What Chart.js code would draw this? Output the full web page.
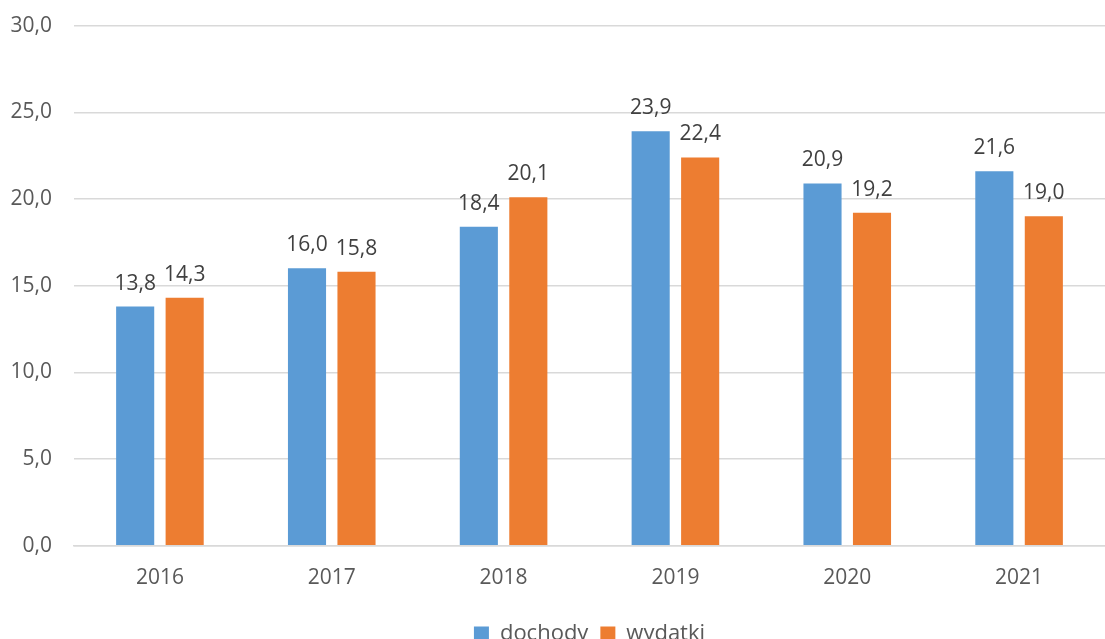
<!DOCTYPE html>
<html>
<head>
<meta charset="utf-8">
<script src="https://cdn.jsdelivr.net/npm/chart.js@4"></script>
<style>
  html,body{margin:0;padding:0;background:#fff;overflow:hidden;}
  #wrap{position:relative;top:-9px;width:1105px;height:664px;}
</style>
</head>
<body>
<div id="wrap"><canvas id="chart"></canvas></div>
<script>
/* values */
const years = ['2016','2017','2018','2019','2020','2021'];
const dochody = [13.8, 16.0, 18.4, 23.9, 20.9, 21.6];
const wydatki = [14.3, 15.8, 20.1, 22.4, 19.2, 19.0];

const FONT = "'Open Sans','Noto Sans',sans-serif";
const TEXT = '#595959';
const fmt = v => v.toFixed(1).replace('.', ',');

Chart.defaults.font.family = FONT;
Chart.defaults.color = TEXT;

/* value labels above each bar */
const barLabels = {
  id: 'barLabels',
  afterDatasetsDraw(chart){
    const ctx = chart.ctx;
    ctx.save();
    ctx.font = '21px ' + FONT;
    ctx.fillStyle = '#404040';
    ctx.textAlign = 'center';
    ctx.textBaseline = 'alphabetic';
    chart.data.datasets.forEach((ds, i) => {
      chart.getDatasetMeta(i).data.forEach((bar, j) => {
        ctx.fillText(fmt(ds.data[j]), bar.x, bar.y - 17);
      });
    });
    ctx.restore();
  }
};

new Chart(document.getElementById('chart'), {
  type: 'bar',
  data: {
    labels: years,
    datasets: [
      { label: 'dochody', data: dochody, backgroundColor: '#5b9bd5' },
      { label: 'wydatki', data: wydatki, backgroundColor: '#ed7d31' },
    ],
  },
  options: {
    responsive: true,
    maintainAspectRatio: false,
    animation: false,
    categoryPercentage: 0.576,
    barPercentage: 0.77,
    layout: { padding: { top: 4, right: 0, left: 0, bottom: 0 } },
    plugins: {
      legend: {
        position: 'bottom',
        fullSize: false, // centre the legend under the plot area
        labels: { boxWidth: 15, boxHeight: 15, padding: 12, color: TEXT, font: { size: 22 } },
      },
      tooltip: { enabled: false },
    },
    scales: {
      x: {
        grid: { display: false, drawTicks: false },
        border: { color: '#d9d9d9', width: 1.5 },
        ticks: { padding: 20, color: TEXT, font: { size: 21 } },
      },
      y: {
        min: 0, max: 30,
        afterFit(scale){ scale.width = 74; },
        grid: { color: '#d9d9d9', lineWidth: 1.5, drawTicks: false },
        border: { display: false },
        ticks: { stepSize: 5, padding: 22, color: TEXT, font: { size: 21 }, callback: v => fmt(v) },
      },
    },
  },
  plugins: [barLabels],
});
</script>
</body>
</html>
